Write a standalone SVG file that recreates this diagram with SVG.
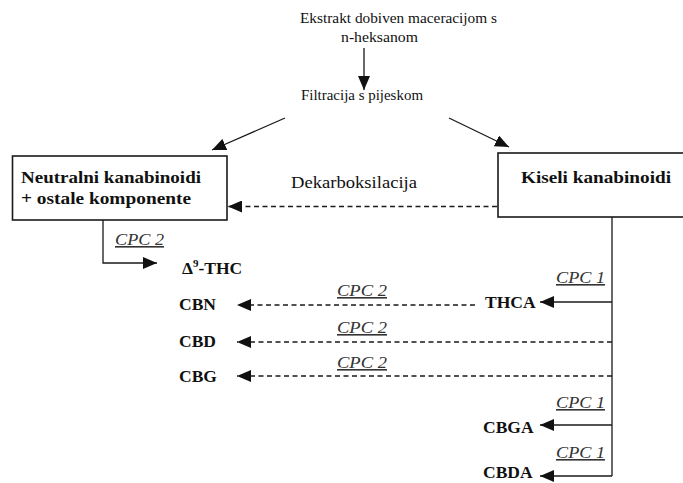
<svg xmlns="http://www.w3.org/2000/svg" width="683" height="483" viewBox="0 0 683 483" font-family="'Liberation Serif', 'Times New Roman', 'DejaVu Serif', serif">
<style>
text{font-family:'Liberation Serif','Times New Roman','DejaVu Serif',serif;fill:#111;}
.n{font-size:15px;}
.b{font-size:17.5px;font-weight:bold;}
.d{font-size:17px;}
.c{font-size:16px;font-style:italic;fill:#333;text-decoration:underline;}
.ln{stroke:#1a1a1a;stroke-width:1.3;fill:none;}
.ds{stroke-dasharray:5,3.5;stroke-width:1.6;}
.box{fill:#fff;stroke:#1a1a1a;stroke-width:1.6;}
</style>
<defs>
<marker id="ah" markerUnits="userSpaceOnUse" markerWidth="14" markerHeight="12" refX="14" refY="6" orient="auto">
<path d="M0,0 L14,6 L0,12 z" fill="#111"/>
</marker>
</defs>
<rect width="683" height="483" fill="#fff"/>
<g id="connectors">
<line class="ln" x1="364" y1="48" x2="364" y2="90" marker-end="url(#ah)"/>
<line class="ln" x1="285" y1="118" x2="212" y2="150" marker-end="url(#ah)"/>
<line class="ln" x1="449" y1="118" x2="509" y2="147" marker-end="url(#ah)"/>
<line class="ln ds" x1="497" y1="206.5" x2="228" y2="206.5" marker-end="url(#ah)"/>
<path class="ln" d="M103,220 V263 H157" marker-end="url(#ah)"/>
<path class="ln" d="M612,217 V476"/>
<line class="ln" x1="612" y1="302" x2="540" y2="302" marker-end="url(#ah)"/>
<line class="ln ds" x1="475" y1="305" x2="237" y2="305" marker-end="url(#ah)"/>
<line class="ln ds" x1="612" y1="342" x2="237" y2="342" marker-end="url(#ah)"/>
<line class="ln ds" x1="612" y1="376" x2="237" y2="376" marker-end="url(#ah)"/>
<line class="ln" x1="612" y1="425" x2="540" y2="425" marker-end="url(#ah)"/>
<line class="ln" x1="612" y1="476" x2="540" y2="476" marker-end="url(#ah)"/>
<text class="d" x="291" y="188" textLength="126" lengthAdjust="spacingAndGlyphs">Dekarboksilacija</text>
<text class="c" x="115" y="245" textLength="49" lengthAdjust="spacingAndGlyphs">CPC 2</text>
<text class="c" x="556" y="283" textLength="49" lengthAdjust="spacingAndGlyphs">CPC 1</text>
<text class="c" x="337" y="296" textLength="50" lengthAdjust="spacingAndGlyphs">CPC 2</text>
<text class="c" x="337" y="333" textLength="50" lengthAdjust="spacingAndGlyphs">CPC 2</text>
<text class="c" x="337" y="368" textLength="50" lengthAdjust="spacingAndGlyphs">CPC 2</text>
<text class="c" x="556" y="408" textLength="49" lengthAdjust="spacingAndGlyphs">CPC 1</text>
<text class="c" x="556" y="458" textLength="49" lengthAdjust="spacingAndGlyphs">CPC 1</text>
</g>
<g id="extrakt">
<text class="n" x="300" y="23" textLength="197" lengthAdjust="spacingAndGlyphs">Ekstrakt dobiven maceracijom s</text>
<text class="n" x="341" y="42" textLength="77" lengthAdjust="spacingAndGlyphs">n-heksanom</text>
</g>
<g id="filtracija">
<text class="n" x="301" y="100" textLength="122" lengthAdjust="spacingAndGlyphs">Filtracija s pijeskom</text>
</g>
<g id="neutralni">
<rect class="box" x="12.5" y="156" width="214.5" height="64"/>
<text class="b" x="21" y="183" textLength="180" lengthAdjust="spacingAndGlyphs">Neutralni kanabinoidi</text>
<text class="b" x="21" y="204" textLength="170" lengthAdjust="spacingAndGlyphs">+ ostale komponente</text>
</g>
<g id="kiseli">
<rect class="box" x="498" y="153" width="200" height="64"/>
<text class="b" x="521" y="183" textLength="150" lengthAdjust="spacingAndGlyphs">Kiseli kanabinoidi</text>
</g>
<g id="thc"><text class="b" x="182" y="274">Δ<tspan dy="-7" font-size="11">9</tspan><tspan dy="7">-THC</tspan></text></g>
<g id="cbn"><text class="b" x="179" y="310">CBN</text></g>
<g id="cbd"><text class="b" x="179" y="347">CBD</text></g>
<g id="cbg"><text class="b" x="179" y="382">CBG</text></g>
<g id="thca"><text class="b" x="485" y="308">THCA</text></g>
<g id="cbga"><text class="b" x="483" y="433">CBGA</text></g>
<g id="cbda"><text class="b" x="483" y="478">CBDA</text></g>
</svg>
